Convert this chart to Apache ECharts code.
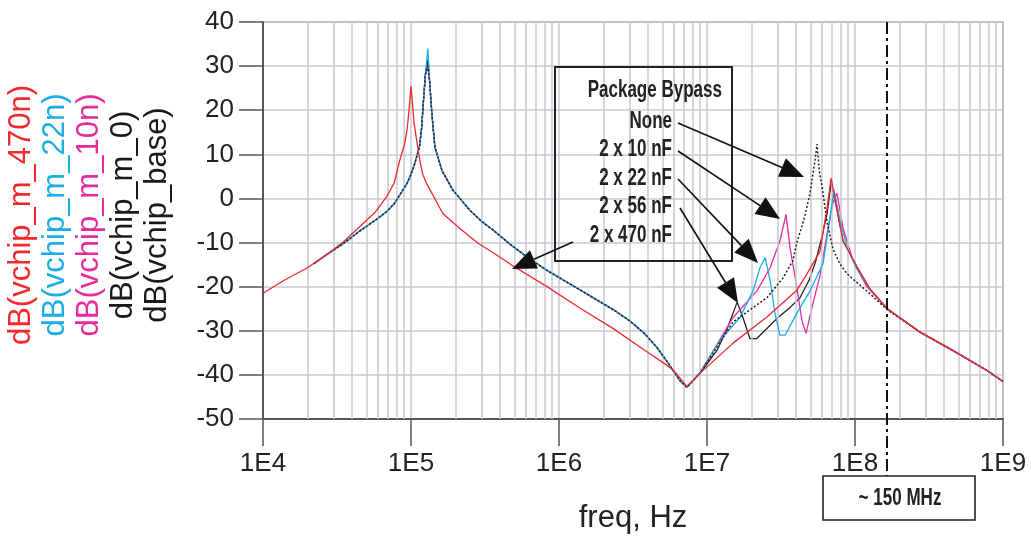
<!DOCTYPE html>
<html>
<head>
<meta charset="utf-8">
<script src="https://cdn.jsdelivr.net/npm/echarts@6/dist/echarts.min.js"></script>
<style>
    html, body { margin: 0; padding: 0; background: #fff; }
    #main { width: 1031px; height: 540px; }
</style>
</head>
<body>
<div id="main"></div>
<script>
// 470n 曲线 (红)
var freq470 = [1e4, 1.4e4, 2e4, 2.7e4, 3.5e4, 4.5e4, 5.7e4, 6.85e4, 7.7e4, 8.4e4, 9e4, 9.4e4, 9.7e4, 1e5, 1.02e5,
    1.05e5, 1.1e5, 1.15e5, 1.2e5, 1.28e5, 1.49e5, 1.64e5, 2.14e5, 2.85e5, 3.6e5, 4.9e5, 8.3e5, 1.39e6, 2.3e6, 3.9e6,
    5.2e6, 5.9e6, 6.6e6, 7.3e6, 8e6, 9e6, 1.5e7, 2.54e7, 4.05e7, 4.74e7, 5.8e7, 6.47e7, 6.9e7, 7.55e7, 8.3e7,
    1.03e8, 1.26e8, 1.65e8, 2.75e8, 4.6e8, 7.8e8, 1e9];
var db470 = [-21.5, -18.5, -15.7, -12.7, -9.8, -6.4, -3.2, 0.4, 3.5, 8.7, 12, 15.5, 20, 25.5, 22,
    17, 12.5, 8.4, 5.5, 3.3, -0.8, -3.4, -6.8, -10.2, -12.3, -15.3, -20, -24.9, -29.4, -34.7,
    -37.5, -38.9, -40.8, -42.6, -41.3, -39.6, -32.8, -26.9, -20.8, -17.1, -12, -2.2, 4.6, -2.5, -9.6,
    -15.5, -20.5, -25, -30.3, -34.5, -39, -41.5];

// 其余四条曲线低频段共用
var lowFreq = [2.2e4, 2.7e4, 3.5e4, 4.5e4, 5.7e4, 6.85e4, 7.7e4, 8.4e4, 9.4e4, 1e5, 1.06e5, 1.14e5, 1.18e5, 1.21e5, 1.25e5,
    1.34e5, 1.38e5, 1.45e5, 1.62e5, 1.92e5, 2.5e5, 3e5, 3.6e5, 4.8e5, 6.4e5, 8.3e5, 1.07e6, 1.4e6, 1.8e6, 2.4e6,
    3.02e6, 3.8e6, 4.57e6, 5.3e6, 5.93e6, 6.6e6, 7.3e6];
var lowDb = [-14.8, -12.7, -10.2, -7.4, -5, -3, -1.2, 0.8, 3.4, 5.5, 7.9, 11.7, 16, 21.5, 28,
    26, 19.7, 11.6, 6.3, 1.9, -2.7, -5.2, -7.2, -10.7, -13.8, -16.3, -18.5, -20.8, -23, -25.5,
    -27.8, -30.7, -33.7, -36.7, -39.1, -41.4, -42.8];
var peakFreq = 1.3e5;
// m_0, 22n, 10n, base 的低频谐振峰
var peakDb = [31.5, 34, 30, 30];

// 高频段
var hfFreqM0 = [9e6, 1.17e7, 1.37e7, 1.6e7, 1.75e7, 1.95e7, 2.16e7, 2.54e7, 2.97e7, 3.64e7, 4.25e7, 4.9e7, 5.4e7, 5.9e7,
    6.47e7, 6.9e7, 7.55e7, 8.3e7, 1.03e8, 1.26e8, 1.65e8];
var hfDbM0 = [-39.6, -34.4, -29.5, -23.5, -27, -31.8, -31.8, -29.5, -27.2, -24.7, -22.5, -18.5, -14.5, -9.5,
    -3.5, 3.5, -2.5, -9.6, -15.5, -20.5, -25];

var hfFreq22 = [9e6, 1.22e7, 1.67e7, 2.05e7, 2.28e7, 2.47e7, 2.67e7, 2.88e7, 3.11e7, 3.37e7, 4.05e7, 4.96e7, 6.08e7,
    6.67e7, 7.21e7, 7.92e7, 8.83e7, 1.03e8, 1.26e8, 1.65e8];
var hfDb22 = [-39.4, -32.2, -27, -20.9, -15.7, -13.4, -18.6, -26, -31, -31, -26, -21, -14.8,
    -6, 2, -5, -11, -16, -20.5, -25];

var hfFreq10 = [9e6, 1.5e7, 2.18e7, 2.67e7, 3.11e7, 3.42e7, 3.64e7, 4.05e7, 4.38e7, 4.67e7, 5.12e7, 5.8e7, 6.58e7,
    7.1e7, 7.55e7, 8.3e7, 9.7e7, 1.2e8, 1.65e8];
var hfDb10 = [-39.5, -27, -20.9, -15.7, -9.6, -3.6, -11.2, -20.2, -27.7, -30.6, -24.7, -17.5, -6.7,
    -1, 1.2, -6.7, -14.1, -20, -25];

var hfFreqBase = [9e6, 1.5e7, 2.54e7, 3.27e7, 3.81e7, 4.03e7, 4.5e7, 4.96e7, 5.37e7, 5.54e7, 5.75e7, 6e7, 6.45e7,
    7.1e7, 7.9e7, 8.8e7, 9.7e7, 1.26e8, 1.65e8];
var hfDbBase = [-39.6, -28, -22.5, -18, -14.1, -10.2, -5, 1, 8.7, 12.3, 6, 2.5, -5,
    -11.5, -14.8, -17, -18.3, -21.6, -25.2];

// 高频尾部共用
var tailFreq = [2.75e8, 4.6e8, 7.8e8, 1e9];
var tailDb = [-30.3, -34.5, -39, -41.5];

var legendNames = ['dB(vchip_m_470n)', 'dB(vchip_m_22n)', 'dB(vchip_m_10n)', 'dB(vchip_m_0)', 'dB(vchip_base)'];
var legendColors = ['#f0282d', '#1aaee5', '#e82a9a', '#1a1a1a', '#1a1a1a'];
var bypassLabels = ['None', '2 x 10 nF', '2 x 22 nF', '2 x 56 nF', '2 x 470 nF'];

function zip(fs, ds) {
    var out = [];
    for (var i = 0; i < fs.length; i++) {
        out.push([fs[i], ds[i]]);
    }
    return out;
}

function buildCurve(peak, hfF, hfD) {
    var pts = zip(lowFreq, lowDb);
    pts.push([peakFreq, peak]);
    pts = pts.concat(zip(hfF, hfD), zip(tailFreq, tailDb));
    pts.sort(function (a, b) { return a[0] - b[0]; });
    return pts;
}

// 次网格 2..9 x 10^n
var minorGrid = [];
for (var e = 4; e < 9; e++) {
    for (var m = 2; m < 10; m++) {
        minorGrid.push({xAxis: m * Math.pow(10, e)});
    }
}

var gridColor = '#c6cad1';
var axisFont = 'Liberation Sans, Arial, sans-serif';
// 原图为窄体粗字, 用 scaleX 压窄
var boldFont = 'bold 23px "Liberation Sans", Arial, sans-serif';
var narrow = 0.74;

function arrow(x1, y1, x2, y2) {
    var len = Math.sqrt((x2 - x1) * (x2 - x1) + (y2 - y1) * (y2 - y1));
    var ux = (x2 - x1) / len, uy = (y2 - y1) / len;
    var hl = 24, hw = 10;
    var bx = x2 - ux * hl, by = y2 - uy * hl;
    return [
        {type: 'line', z: 100, shape: {x1: x1, y1: y1, x2: bx, y2: by}, style: {stroke: '#111', lineWidth: 1.6}},
        {type: 'polygon', z: 100, shape: {points: [[x2, y2], [bx - uy * hw, by + ux * hw], [bx + uy * hw, by - ux * hw]]},
            style: {fill: '#111'}}
    ];
}

function boldText(str, x, y, align) {
    return {
        type: 'text', z: 100, x: x, y: y, scaleX: narrow,
        style: {text: str, font: boldFont, fill: '#222', align: align, verticalAlign: 'middle'}
    };
}

var graphics = [];
// 左侧竖排图例
var legendX = [21, 55, 89, 123, 157];
for (var i = 0; i < legendNames.length; i++) {
    graphics.push({
        type: 'text', x: legendX[i], y: 215, rotation: Math.PI / 2, z: 100,
        style: {text: legendNames[i], fill: legendColors[i], font: '31px ' + axisFont, align: 'center', verticalAlign: 'middle'}
    });
}
// 注释框
graphics.push({type: 'rect', z: 100, shape: {x: 555, y: 67, width: 177, height: 194}, style: {fill: null, stroke: '#222', lineWidth: 2}});
graphics.push(boldText('Package Bypass', 722, 91, 'right'));
var labelY = [122, 150, 179, 207, 236];
for (var j = 0; j < bypassLabels.length; j++) {
    graphics.push(boldText(bypassLabels[j], 672, labelY[j], 'right'));
}
graphics = graphics.concat(
    arrow(678, 123, 804, 177),
    arrow(678, 151, 780, 219),
    arrow(678, 179, 758, 263),
    arrow(680, 208, 738, 303),
    arrow(573, 242, 512, 269)
);
// ~150 MHz 标记
graphics.push({type: 'line', z: 100, shape: {x1: 887, y1: 22, x2: 887, y2: 476}, style: {stroke: '#111', lineWidth: 2, lineDash: [12, 4, 3, 4]}});
graphics.push({type: 'rect', z: 100, shape: {x: 823, y: 476, width: 152, height: 44}, style: {fill: '#fff', stroke: '#222', lineWidth: 1.6}});
graphics.push(boldText('~ 150 MHz', 900, 499, 'center'));

function lineSeries(name, data, color, z, dash) {
    return {
        name: name, type: 'line', data: data, symbol: 'none', showSymbol: false, z: z,
        lineStyle: {color: color, width: dash ? 1.5 : 1.3, type: dash ? [2, 2] : 'solid'},
        emphasis: {disabled: true}
    };
}

var myChart = echarts.init(document.getElementById('main'));
var option = {
    animation: false,
    backgroundColor: '#fff',
    grid: {left: 263, right: 28, top: 22, bottom: 121, show: true, borderColor: '#8c8f95', borderWidth: 1.5},
    xAxis: {
        type: 'log', logBase: 10, min: 1e4, max: 1e9,
        name: 'freq, Hz', nameLocation: 'middle', nameGap: 84,
        nameTextStyle: {fontSize: 31, fontFamily: axisFont, color: '#222'},
        axisLine: {onZero: false, lineStyle: {color: '#555', width: 2}},
        axisTick: {length: 27, lineStyle: {color: '#555', width: 1.5}},
        axisLabel: {
            fontSize: 26, fontFamily: axisFont, color: '#222', margin: 32,
            formatter: function (v) { return '1E' + Math.round(Math.log10(v)); }
        },
        splitLine: {show: true, lineStyle: {color: gridColor, width: 1.5}}
    },
    yAxis: {
        type: 'value', min: -50, max: 40, interval: 10,
        axisLine: {show: true, lineStyle: {color: '#555', width: 2}},
        axisTick: {show: true, length: 24, lineStyle: {color: '#555', width: 1.5}},
        axisLabel: {fontSize: 26, fontFamily: axisFont, color: '#222', margin: 29},
        splitLine: {show: true, lineStyle: {color: gridColor, width: 1.5}}
    },
    graphic: graphics,
    series: [
        {
            name: 'minor', type: 'line', data: [], z: 1, silent: true,
            markLine: {
                silent: true, symbol: ['none', 'none'], label: {show: false},
                lineStyle: {color: gridColor, width: 1.5, type: 'solid'},
                emphasis: {disabled: true},
                data: minorGrid
            }
        },
        lineSeries(legendNames[3], buildCurve(peakDb[0], hfFreqM0, hfDbM0), '#222', 3, false),
        lineSeries(legendNames[2], buildCurve(peakDb[2], hfFreq10, hfDb10), legendColors[2], 4, false),
        lineSeries(legendNames[1], buildCurve(peakDb[1], hfFreq22, hfDb22), legendColors[1], 5, false),
        lineSeries(legendNames[4], buildCurve(peakDb[3], hfFreqBase, hfDbBase), '#222', 6, true),
        lineSeries(legendNames[0], zip(freq470, db470), legendColors[0], 7, false)
    ]
};
myChart.setOption(option);
</script>
</body>
</html>
